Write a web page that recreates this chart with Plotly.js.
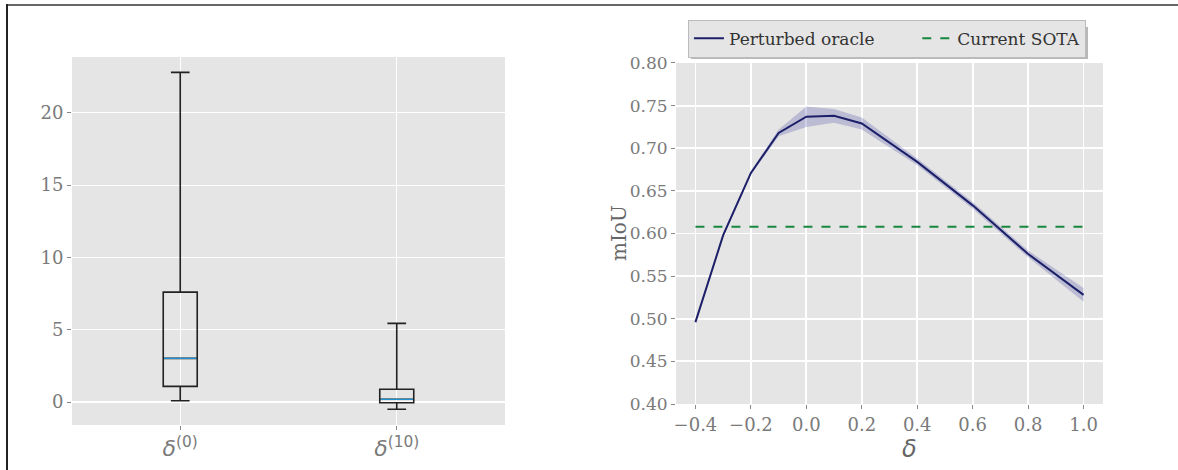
<!DOCTYPE html>
<html>
<head>
<meta charset="utf-8">
<script src="https://cdn.plot.ly/plotly-3.0.1.min.js"></script>
<style>
  html, body { margin: 0; padding: 0; background: #fff; }
  #wrap { position: relative; width: 1178px; height: 470px; overflow: hidden; }
  #chart { position: absolute; left: 0; top: 0; width: 1178px; height: 470px; }
  .bt { position: absolute; left: 6px; top: 4px; width: 1172px; height: 0; border-top: 2px solid #666; }
  .bl { position: absolute; left: 6px; top: 4px; width: 0; height: 466px; border-left: 2px solid #222; }
</style>
</head>
<body>
<div id="wrap">
  <div id="chart"></div>
  <div class="bt"></div>
  <div class="bl"></div>
</div>
<script>
// ---- Left panel: box plot statistics ----
const boxLabels = ['<i>δ</i><sup>(0)</sup>', '<i>δ</i><sup>(10)</sup>'];
const boxPos = [0, 1];
const boxLower = [0.09, -0.5];
const boxQ1 = [1.08, -0.05];
const boxMedian = [3.02, 0.19];
const boxQ3 = [7.6, 0.88];
const boxUpper = [22.8, 5.44];

// ---- Right panel: mIoU vs delta ----
const deltaX = [-0.4, -0.3, -0.2, -0.1, 0.0, 0.1, 0.2, 0.4, 0.6, 0.8, 1.0];
const miouMean = [0.496, 0.598, 0.671, 0.718, 0.737, 0.738, 0.729, 0.684, 0.633, 0.576, 0.528];
const miouStd = [0.002, 0.002, 0.002, 0.004, 0.012, 0.008, 0.007, 0.004, 0.004, 0.004, 0.008];
const sotaX = [-0.4, 1.0];
const sotaY = [0.608, 0.608];
const seriesNames = ['Perturbed oracle', 'Current SOTA'];

const upper = miouMean.map((m, i) => m + miouStd[i]);
const lower = miouMean.map((m, i) => m - miouStd[i]);

const NAVY = '#1c2068';
const GREEN = '#17873f';
const TICKC = '#7a7a7a';
const SERIF = 'DejaVu Serif, serif';
const PAD = '\u00a0'.repeat(7);

const traces = [
  {
    type: 'box', x: boxPos, q1: boxQ1, median: boxMedian, q3: boxQ3,
    lowerfence: boxLower, upperfence: boxUpper,
    width: 0.157, whiskerwidth: 0.55,
    line: { color: '#222222', width: 1.6 }, fillcolor: 'rgba(0,0,0,0)',
    boxpoints: false, showlegend: false, hoverinfo: 'skip',
    xaxis: 'x', yaxis: 'y'
  },
  {
    type: 'box', x: boxPos, q1: boxMedian, median: boxMedian, q3: boxMedian,
    lowerfence: boxMedian, upperfence: boxMedian,
    width: 0.15, whiskerwidth: 0,
    line: { color: '#1f8fcf', width: 1.3 }, fillcolor: 'rgba(0,0,0,0)',
    boxpoints: false, showlegend: false, hoverinfo: 'skip',
    xaxis: 'x', yaxis: 'y'
  },
  {
    type: 'scatter', mode: 'lines', x: deltaX, y: lower,
    line: { width: 0, color: 'rgba(0,0,0,0)' }, showlegend: false, hoverinfo: 'skip',
    xaxis: 'x2', yaxis: 'y2'
  },
  {
    type: 'scatter', mode: 'lines', x: deltaX, y: upper, fill: 'tonexty',
    fillcolor: 'rgba(40,40,150,0.22)',
    line: { width: 0, color: 'rgba(0,0,0,0)' }, showlegend: false, hoverinfo: 'skip',
    xaxis: 'x2', yaxis: 'y2'
  },
  {
    type: 'scatter', mode: 'lines', x: deltaX, y: miouMean, name: seriesNames[0] + PAD,
    line: { color: NAVY, width: 2 }, xaxis: 'x2', yaxis: 'y2'
  },
  {
    type: 'scatter', mode: 'lines', x: sotaX, y: sotaY, name: seriesNames[1],
    line: { color: GREEN, width: 2, dash: 'dash' }, xaxis: 'x2', yaxis: 'y2'
  }
];

const layout = {
  width: 1178, height: 470,
  margin: { l: 0, r: 0, t: 0, b: 0 },
  paper_bgcolor: 'rgba(0,0,0,0)',
  plot_bgcolor: '#e5e5e5',
  font: { family: SERIF, size: 17, color: TICKC },
  showlegend: true,
  legend: {
    orientation: 'h', x: 0.584, y: 0.958, xanchor: 'left', yanchor: 'top',
    traceorder: 'normal',
    bgcolor: '#e5e5e5', bordercolor: '#bbbbbb', borderwidth: 1,
    font: { family: SERIF, size: 17, color: '#333333' },
    itemwidth: 30
  },
  shapes: [
    {
      type: 'rect', xref: 'paper', yref: 'paper',
      x0: 691 / 1178, x1: 1088 / 1178, y0: 1 - 59 / 470, y1: 1 - 27 / 470,
      fillcolor: '#b8b8b8', line: { width: 0 }, layer: 'above'
    }
  ],
  xaxis: {
    domain: [0.0611, 0.4287], anchor: 'y',
    range: [-0.5, 1.5], tickvals: boxPos, ticktext: boxLabels,
    tickfont: { family: 'DejaVu Sans, sans-serif', size: 22, color: TICKC },
    showgrid: true, gridcolor: '#ffffff', gridwidth: 1.2, zeroline: false,
    ticks: 'outside', ticklen: 4, tickcolor: '#888', showline: false
  },
  yaxis: {
    domain: [0.0957, 0.8787], anchor: 'x',
    range: [-1.59, 23.86], tickvals: [0, 5, 10, 15, 20],
    tickfont: { family: SERIF, size: 18, color: TICKC },
    showgrid: true, gridcolor: '#ffffff', gridwidth: 1.2, zeroline: false,
    ticks: 'outside', ticklen: 4, tickcolor: '#888', showline: false
  },
  xaxis2: {
    domain: [0.5739, 0.9363], anchor: 'y2',
    range: [-0.47, 1.07], dtick: 0.2, tick0: 0, tickformat: '.1f',
    tickfont: { family: SERIF, size: 18, color: TICKC },
    showgrid: true, gridcolor: '#ffffff', gridwidth: 1.8, zeroline: false,
    ticks: 'outside', ticklen: 4, tickcolor: '#888', showline: false
  },
  yaxis2: {
    domain: [0.1404, 0.866], anchor: 'x2',
    range: [0.4, 0.8], dtick: 0.05, tick0: 0.4, tickformat: '.2f',
    tickfont: { family: SERIF, size: 17, color: TICKC },
    showgrid: true, gridcolor: '#ffffff', gridwidth: 1.8, zeroline: false,
    ticks: 'outside', ticklen: 4, tickcolor: '#888', showline: false
  },
  annotations: [
    {
      text: 'mIoU', xref: 'paper', yref: 'paper', x: 619 / 1178, y: 1 - 233 / 470,
      xanchor: 'center', yanchor: 'middle', textangle: -90, showarrow: false,
      font: { family: SERIF, size: 20, color: '#666' }
    },
    {
      text: '<i>δ</i>', xref: 'paper', yref: 'paper', x: 909 / 1178, y: 1 - 449 / 470,
      xanchor: 'center', yanchor: 'middle', showarrow: false,
      font: { family: 'DejaVu Sans, sans-serif', size: 24, color: '#666' }
    }
  ]
};

Plotly.newPlot('chart', traces, layout, { displayModeBar: false, staticPlot: true });
</script>
</body>
</html>
